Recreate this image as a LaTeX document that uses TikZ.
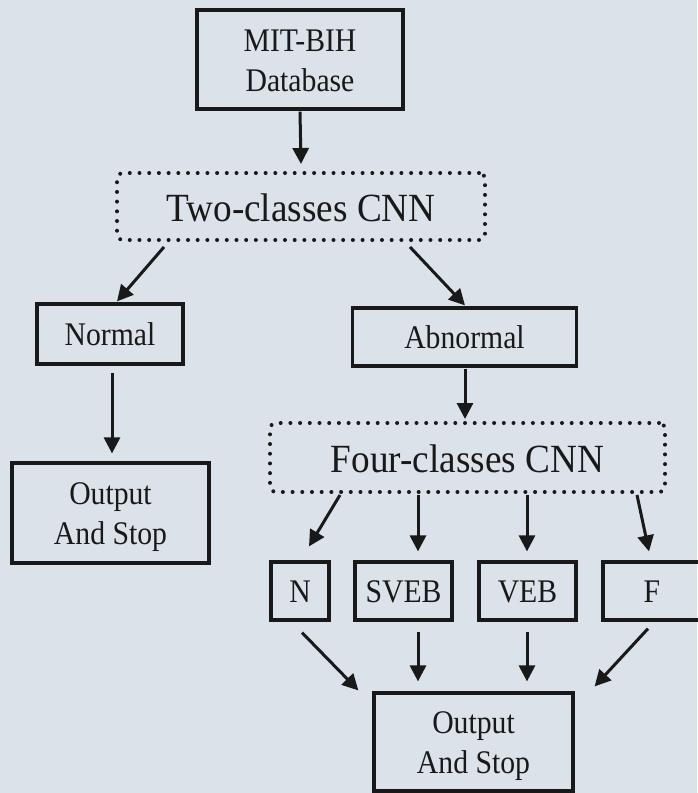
\documentclass[tikz,border=0pt]{standalone}
\usepackage{fontspec}
\setmainfont{Liberation Serif}
\usetikzlibrary{arrows.meta,calc}
\definecolor{bgc}{RGB}{220,226,233}
\definecolor{ink}{RGB}{25,25,25}
\newcommand{\sqtxt}[3]{\raisebox{-#2}[\height][\depth]{\scalebox{#1}[1]{\begin{tabular}{@{}c@{}}#3\end{tabular}}}}
\begin{document}
\begin{tikzpicture}[x=1pt,y=-1pt,
  box/.style={draw=ink,line width=3.2pt,inner sep=0pt,align=center,text=ink,
    font=\fontsize{33}{40}\selectfont},
  cnn/.style={draw=ink,line width=4pt,line cap=round,dash pattern=on 0pt off 9.7pt,
    rounded corners=6pt,inner sep=0pt,align=center,text=ink,font=\fontsize{40}{44}\selectfont},
  arr/.style={draw=ink,line width=3pt,-{Triangle[length=16pt,width=16pt]}}]
\fill[bgc] (0,0) rectangle (697,793);
\useasboundingbox (0,0) rectangle (697,793);

\node[box,minimum width=206pt,minimum height=99pt] (db) at (300,59.5) {\sqtxt{0.9}{4pt}{MIT-BIH\\Database}};
\node[cnn,minimum width=368pt,minimum height=67pt] (two) at (301,206.5) {\sqtxt{0.93}{6pt}{Two-classes CNN}};
\node[box,minimum width=146pt,minimum height=60pt] (normal) at (110,334) {\sqtxt{0.9}{3pt}{Normal}};
\node[box,minimum width=224pt,minimum height=58pt] (abn) at (464.5,337) {\sqtxt{0.9}{3pt}{Abnormal}};
\node[cnn,minimum width=395pt,minimum height=69pt] (four) at (467.5,457.5) {\sqtxt{0.93}{6pt}{Four-classes CNN}};
\node[box,minimum width=197pt,minimum height=100pt] (out1) at (110.5,513) {\sqtxt{0.9}{3pt}{Output\\And Stop}};
\node[box,minimum width=58pt,minimum height=58pt] (n) at (300,591) {\sqtxt{0.9}{3pt}{N}};
\node[box,minimum width=97pt,minimum height=58pt] (sveb) at (403.5,591) {\sqtxt{0.9}{3pt}{SVEB}};
\node[box,minimum width=97pt,minimum height=58pt] (veb) at (527.5,591) {\sqtxt{0.9}{3pt}{VEB}};
\node[box,minimum width=98pt,minimum height=58pt] (f) at (652,591) {\sqtxt{0.9}{3pt}{F}};
\node[box,minimum width=199pt,minimum height=98pt] (out2) at (473.5,742) {\sqtxt{0.9}{3pt}{Output\\And Stop}};

\draw[arr] ($(db.south)+(0,1)$) -- ($(two.north)+(0,-7)$);
\draw[arr] ($(two.south)+(-137,5)$) -- ($(normal.north)+(7,-1)$);
\draw[arr] ($(two.south)+(109,5)$) -- ($(abn.north)+(0.5,-1)$);
\draw[arr] ($(normal.south)+(2,7)$) -- ($(out1.north)+(1.5,-8)$);
\draw[arr] ($(abn.south)+(0.5,1)$) -- ($(four.north)+(-2.5,-2)$);
\draw[arr] ($(four.south)+(-127.5,1)$) -- ($(n.north)+(9,-14)$);
\draw[arr] ($(four.south)+(-49.5,1)$) -- ($(sveb.north)+(14.5,-9)$);
\draw[arr] ($(four.south)+(59.5,1)$) -- ($(veb.north)+(-0.5,-9)$);
\draw[arr] ($(four.south)+(169.5,1)$) -- ($(f.north)+(-3,-9)$);
\draw[arr] ($(n.south)+(2,11)$) -- ($(out2.north west)+(-14,-1)$);
\draw[arr] ($(sveb.south)+(14.5,10)$) -- ($(out2.north)+(-55.5,-10)$);
\draw[arr] ($(veb.south)+(-0.5,10)$) -- ($(out2.north)+(53.5,-10)$);
\draw[arr] ($(f.south)+(-4,7)$) -- ($(out2.north east)+(20,-5)$);
\end{tikzpicture}
\end{document}
